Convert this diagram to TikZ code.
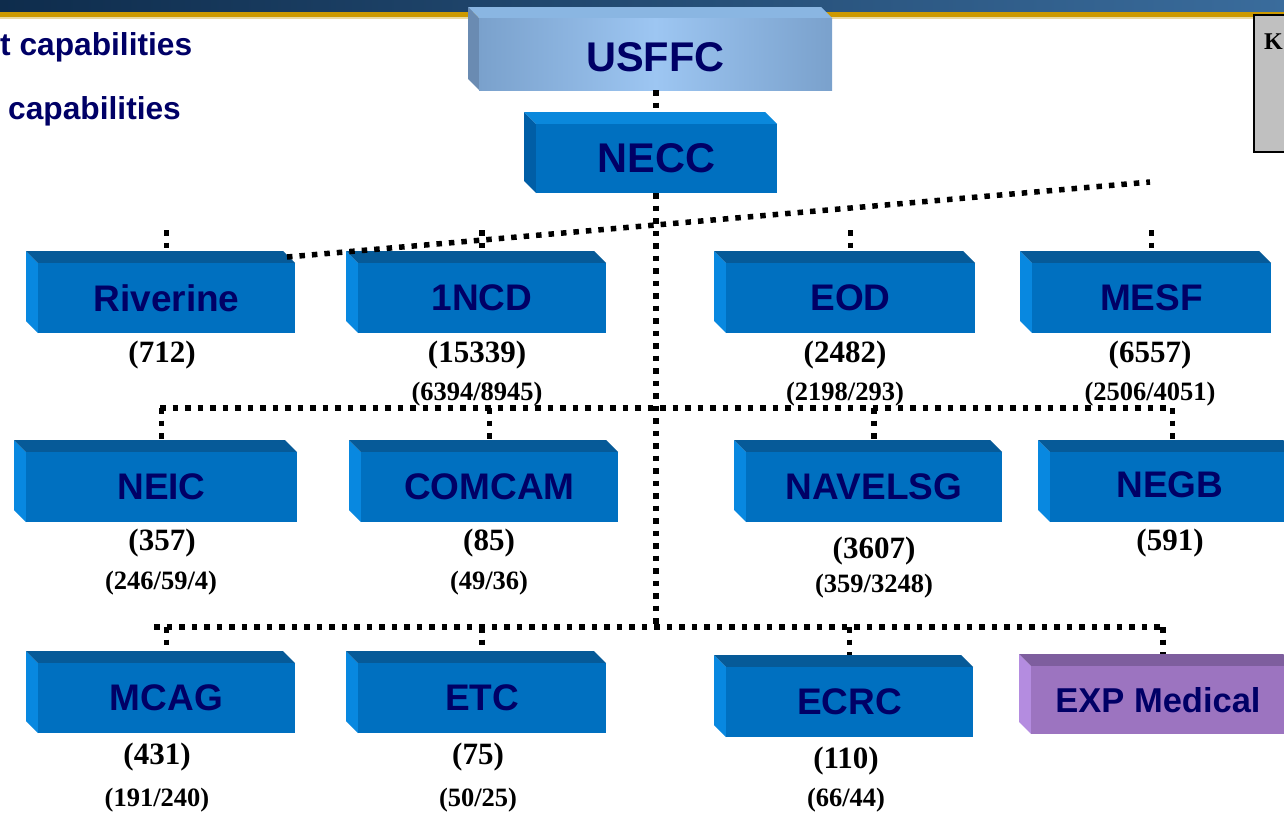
\documentclass[tikz,border=0pt]{standalone}
\usepackage{fontspec}
\setmainfont{Liberation Serif}
\newfontfamily\arialf{Liberation Sans}
\usetikzlibrary{calc}
\definecolor{navy}{HTML}{000066}
\definecolor{hdrL}{HTML}{0E2C4C}
\definecolor{hdrR}{HTML}{3A6C9C}
\definecolor{gold}{HTML}{CC9900}
\definecolor{goldL}{HTML}{EAD9A0}
\definecolor{keygray}{HTML}{C0C0C0}
\definecolor{bF}{HTML}{0070C0}
\definecolor{bT}{HTML}{065A98}
\definecolor{bS}{HTML}{0888E0}
\definecolor{nT}{HTML}{0A88DC}
\definecolor{nS}{HTML}{005EA6}
\definecolor{uE}{HTML}{7AA1CC}
\definecolor{uC}{HTML}{9DC6F2}
\definecolor{uT}{HTML}{8AB6E2}
\definecolor{uS}{HTML}{6A8BB2}
\definecolor{pF}{HTML}{9C74C0}
\definecolor{pT}{HTML}{7E5E9E}
\definecolor{pS}{HTML}{B48CE0}
\tikzset{
  conn/.style={line width=5.5pt, dash pattern=on 5.5pt off 7pt, black},
  lbl/.style={font=\arialf\bfseries\fontsize{37}{42}\selectfont, text=navy, inner sep=0pt},
  smlbl/.style={font=\arialf\bfseries\fontsize{34.5}{40}\selectfont, text=navy, inner sep=0pt},
  biglbl/.style={font=\arialf\bfseries\fontsize{41.5}{46}\selectfont, text=navy, inner sep=0pt},
  numbig/.style={font=\bfseries\fontsize{31}{35}\selectfont, inner sep=0pt},
  numsmall/.style={font=\bfseries\fontsize{26.5}{30}\selectfont, inner sep=0pt},
  toptxt/.style={font=\arialf\bfseries\fontsize{31.7}{36}\selectfont, text=navy, inner sep=0pt, anchor=base west},
}
\def\dep{12}
% name, x1, y1, x2, y2, front options, top colour, side colour
\newcommand\cubebox[8]{%
  \fill[#8] (#2,#3) -- (#2-\dep,#3-\dep) -- (#2-\dep,#5-\dep) -- (#2,#5) -- cycle;
  \fill[#7] (#2,#3) -- (#2-\dep,#3-\dep) -- (#4-\dep,#3-\dep) -- (#4,#3) -- cycle;
  \path[#6] (#2,#3) rectangle (#4,#5);
  \coordinate (#1-t) at ({(#2+#4)/2},{#3-\dep});
  \coordinate (#1) at ({(#2+#4)/2},{(#3+#5)/2});
}
\newcommand\boxlabel[3]{\node[#2] (#1-l) at (#1) {#3};}
\begin{document}
\begin{tikzpicture}[x=1pt,y=-1pt]
\useasboundingbox (0,0) rectangle (1284,819);
\clip (0,0) rectangle (1284,819);
% header
\path[left color=hdrL, right color=hdrR] (0,0) rectangle (1284,12);
\fill[gold] (0,12) rectangle (1284,17);
\fill[goldL] (0,17) rectangle (1284,18.5);
% key box
\filldraw[fill=keygray, draw=black, line width=2.5pt] (1254,15) rectangle (1300,152);
\node[font=\bfseries\fontsize{24}{28}\selectfont, inner sep=0pt, anchor=base west] (keyk) at (1264,49) {K};
% top-left text
\node[toptxt] (tl1) at (0,55) {t capabilities};
\node[toptxt] (tl2) at (8,119) {capabilities};

% boxes
\def\dep{11}
\cubebox{usffc}{479}{18}{832}{90}{left color=uE, right color=uE, middle color=uC}{uT}{uS}
\def\dep{12}
\cubebox{necc}{536}{124}{777}{193}{fill=bF}{nT}{nS}
\cubebox{riv}{38}{263}{295}{333}{fill=bF}{bT}{bS}
\cubebox{ncd}{358}{263}{606}{333}{fill=bF}{bT}{bS}
\cubebox{eod}{726}{263}{975}{333}{fill=bF}{bT}{bS}
\cubebox{mesf}{1032}{263}{1271}{333}{fill=bF}{bT}{bS}
\cubebox{neic}{26}{452}{297}{522}{fill=bF}{bT}{bS}
\cubebox{comcam}{361}{452}{618}{522}{fill=bF}{bT}{bS}
\cubebox{navel}{746}{452}{1002}{522}{fill=bF}{bT}{bS}
\cubebox{negb}{1050}{452}{1295}{522}{fill=bF}{bT}{bS}
\cubebox{mcag}{38}{663}{295}{733}{fill=bF}{bT}{bS}
\cubebox{etc}{358}{663}{606}{733}{fill=bF}{bT}{bS}
\cubebox{ecrc}{726}{667}{973}{737}{fill=bF}{bT}{bS}
\cubebox{exp}{1031}{666}{1295}{734}{fill=pF}{pT}{pS}

% connectors
\coordinate (usffc-b) at (656,90);
\coordinate (necc-b) at (656,193);
\draw[conn] (usffc-b) -- (usffc-b |- necc-t);
% row 1
\coordinate (b1a) at (287,257);
\coordinate (b1b) at (1150,182);
\draw[conn] (b1a) -- (b1b);
\coordinate (s1top) at (0,230);
\draw[conn] (riv-t |- s1top) -- (riv-t);
\draw[conn] (ncd-t |- s1top) -- (ncd-t);
\draw[conn] (eod-t |- s1top) -- (eod-t);
\draw[conn] (mesf-t |- s1top) -- (mesf-t);
% row 2
\coordinate (b2L) at (160,408);
\coordinate (b2R) at (1172,408);
\draw[conn] (b2L) -- (b2R);
\draw[conn] (neic-t |- b2L) -- (neic-t);
\draw[conn] (comcam-t |- b2L) -- (comcam-t);
\draw[conn] (navel-t |- b2L) -- (navel-t);
\draw[conn] (negb-t |- b2L) -- (negb-t);
% row 3
\coordinate (b3L) at (154,627);
\coordinate (b3R) at (1162,627);
\draw[conn] (necc-b) -- (necc-b |- b3L);
\draw[conn] (b3L) -- (b3R);
\draw[conn] (mcag-t |- b3L) -- (mcag-t);
\draw[conn] (etc-t |- b3L) -- (etc-t);
\draw[conn] (ecrc-t |- b3L) -- (ecrc-t);
\draw[conn] (exp-t |- b3L) -- (exp-t);

% labels
\node[biglbl] (usffc-l) at ($(usffc)+(0,3)$) {USFFC};
\boxlabel{necc}{biglbl}{NECC}
\boxlabel{riv}{lbl}{Riverine}
\boxlabel{ncd}{lbl}{1NCD}
\boxlabel{eod}{lbl}{EOD}
\boxlabel{mesf}{lbl}{MESF}
\boxlabel{neic}{lbl}{NEIC}
\boxlabel{comcam}{lbl}{COMCAM}
\boxlabel{navel}{lbl}{NAVELSG}
\node[lbl] (negb-l) at (1170,485) {NEGB};
\boxlabel{mcag}{lbl}{MCAG}
\boxlabel{etc}{lbl}{ETC}
\boxlabel{ecrc}{lbl}{ECRC}
\node[smlbl] (exp-l) at (1158,700) {EXP Medical};

% numbers
\node[numbig] (n712) at (162,355) {(712)};
\node[numbig] (n15339) at (477,355) {(15339)};
\node[numbig] (n2482) at (845,355) {(2482)};
\node[numbig] (n6557) at (1150,355) {(6557)};
\node[numsmall] (s6394) at (477,394) {(6394/8945)};
\node[numsmall] (s2198) at (845,394) {(2198/293)};
\node[numsmall] (s2506) at (1150,394) {(2506/4051)};
\node[numbig] (n357) at (162,543) {(357)};
\node[numbig] (n85) at (489,543) {(85)};
\node[numbig] (n3607) at (874,551) {(3607)};
\node[numbig] (n591) at (1170,543) {(591)};
\node[numsmall] (s246) at (161,583) {(246/59/4)};
\node[numsmall] (s49) at (489,583) {(49/36)};
\node[numsmall] (s359) at (874,586) {(359/3248)};
\node[numbig] (n431) at (157,757) {(431)};
\node[numbig] (n75) at (478,757) {(75)};
\node[numbig] (n110) at (846,761) {(110)};
\node[numsmall] (s191) at (157,800) {(191/240)};
\node[numsmall] (s50) at (478,800) {(50/25)};
\node[numsmall] (s66) at (846,800) {(66/44)};
\end{tikzpicture}
\end{document}
